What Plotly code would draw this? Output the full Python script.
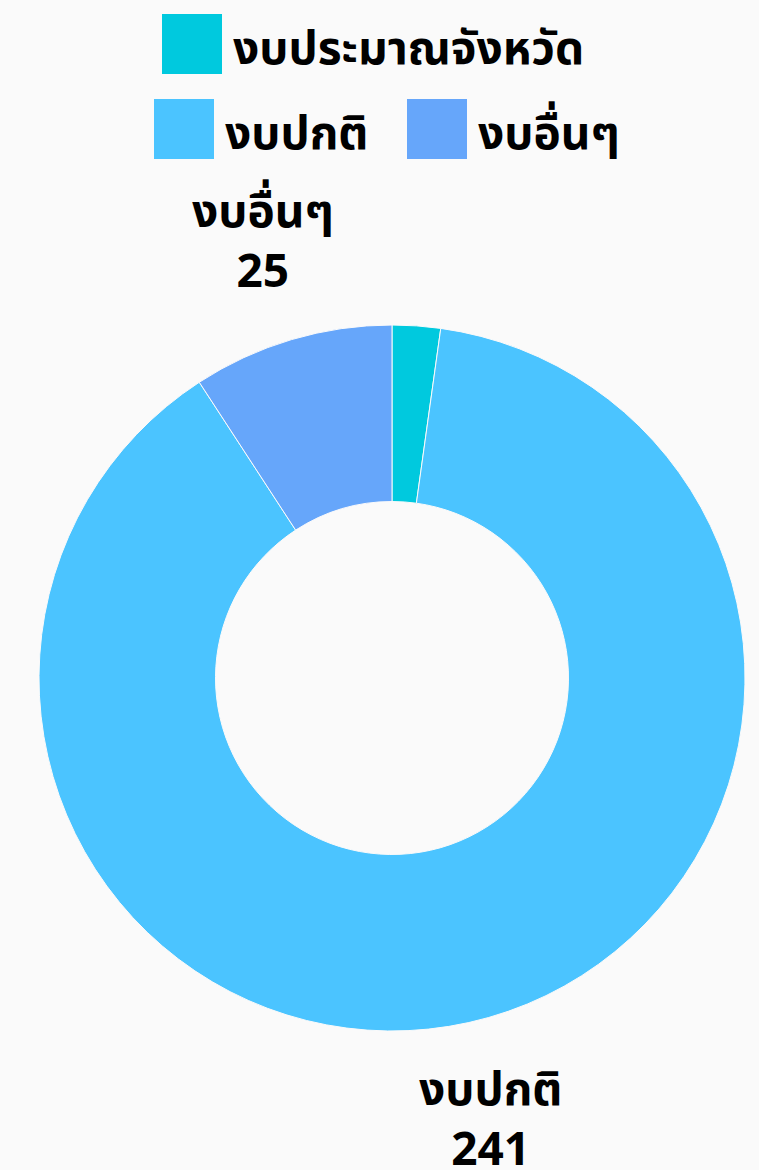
import math
import plotly.graph_objects as go

categories = ["งบประมาณจังหวัด", "งบปกติ", "งบอื่นๆ"]
values = [6, 241, 25]
colors = ["#00C9DE", "#4BC4FF", "#66A6FA"]
show_label = [False, True, True]

W, H = 759, 1170
FONT = "Noto Sans Thai, Noto Sans, sans-serif"
FS = 46

dom_x = [39 / W, 745 / W]
dom_y = [(H - 1031) / H, (H - 325) / H]

fig = go.Figure(go.Pie(
    labels=categories, values=values, textinfo="none",
    hole=0.5, sort=False, direction="clockwise",
    rotation=0, marker=dict(colors=colors, line=dict(color="#FAFAFA", width=1)),
    domain=dict(x=dom_x, y=dom_y),
    showlegend=False, hoverinfo="label+value",
))

# outside labels placed along each slice's mid-angle
cx = (dom_x[0] + dom_x[1]) / 2 * W
cy = (dom_y[0] + dom_y[1]) / 2 * H  # from bottom
R = (dom_x[1] - dom_x[0]) * W / 2
label_r = 1.285 * R
total = sum(values)
annos = []
cum = 0
for c, v, s in zip(categories, values, show_label):
    mid = (cum + v / 2) / total * 2 * math.pi
    cum += v
    if not s:
        continue
    lx = cx + label_r * math.sin(mid)
    ly = cy + label_r * math.cos(mid)
    annos.append(dict(xref="paper", yref="paper", x=lx / W, y=ly / H,
                      text=f"<b>{c}</b><br><b>{v}</b>", showarrow=False,
                      xanchor="center", yanchor="middle", align="center",
                      font=dict(size=FS, color="#000000", family=FONT)))

# custom legend with large squares (rows: [item indices], square left px, top px)
legend_rows = [([0], [162], 14), ([1, 2], [154, 407], 99)]
shapes = []
for idxs, lefts, top in legend_rows:
    for i, left in zip(idxs, lefts):
        shapes.append(dict(type="rect", xref="paper", yref="paper",
                           x0=left / W, x1=(left + 60) / W,
                           y0=1 - (top + 60) / H, y1=1 - top / H,
                           fillcolor=colors[i], line=dict(width=0)))
        annos.append(dict(xref="paper", yref="paper", x=(left + 69) / W,
                          y=1 - (top + 36) / H, text=f"<b>{categories[i]}</b>",
                          showarrow=False, xanchor="left", yanchor="middle",
                          font=dict(size=FS, color="#000000", family=FONT)))

fig.update_layout(
    width=W, height=H, margin=dict(l=0, r=0, t=0, b=0),
    paper_bgcolor="#FAFAFA", plot_bgcolor="#FAFAFA",
    shapes=shapes, annotations=annos, showlegend=False,
)

fig.write_html("out.html")
